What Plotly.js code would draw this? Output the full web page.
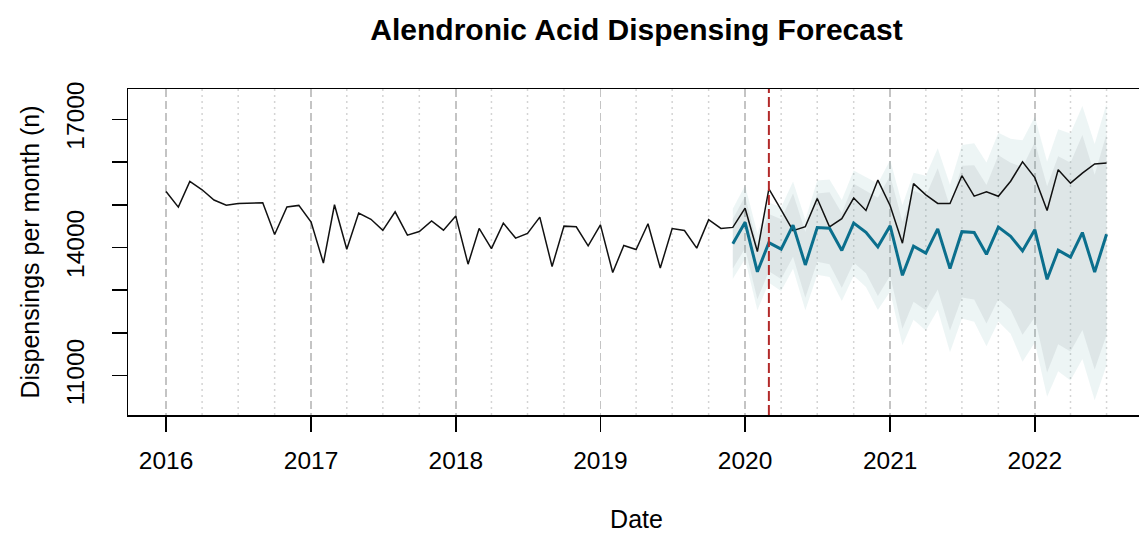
<!DOCTYPE html>
<html>
<head>
<meta charset="utf-8">
<script src="https://cdn.plot.ly/plotly-3.0.1.min.js"></script>
<style>
  html, body { margin: 0; padding: 0; background: #ffffff; overflow: hidden; }
  #chart { width: 1146px; height: 533px; }
</style>
</head>
<body>
<div id="chart"></div>
<script>
// ---------------- data ----------------
const actualStart = [2016, 1];          // first observed month
const actualValues = [
  15310, 14945, 15545, 15350, 15110, 14990, 15030, 15040, 15045, 14305, 14950, 14985,
  14595, 13635, 15000, 13960, 14805, 14660, 14400, 14835, 14290, 14375, 14620, 14405,
  14735, 13610, 14445, 13975, 14570, 14220, 14330, 14710, 13555, 14500, 14485, 14040,
  14528, 13415, 14047, 13953, 14555, 13518, 14445, 14398, 13985, 14650, 14445, 14470,
  14920, 13905, 15370, 14882, 14395, 14488, 15145, 14484, 14676, 15156, 14866, 15577,
  14976, 14100, 15495, 15233, 15030, 15030, 15680, 15200, 15303, 15198, 15550, 16006,
  15635, 14866, 15822, 15505, 15740, 15955, 15975
];

const forecastStart = [2019, 12];       // first forecast month
const forecastMean = [
  14087,
  14590, 13431, 14115, 13961, 14524, 13592, 14465, 14450, 13930, 14571, 14356, 14015,
  14508, 13350, 14030, 13869, 14435, 13506, 14370, 14352, 13840, 14477, 14262, 13919,
  14418, 13255, 13935, 13775, 14350, 13423, 14310
];
const halfWidth95 = [
  820, 860, 900, 940, 980, 1020, 1060, 1100, 1140, 1180, 1230, 1280,
  1480, 1540, 1640, 1720, 1810, 1890, 1960, 2030, 2090, 2150, 2210, 2280,
  2590, 2640, 2750, 2830, 2890, 2960, 3000, 3060
];
const halfWidth80 = [
  580, 610, 640, 670, 700, 740, 770, 800, 840, 870, 920, 960,
  1150, 1170, 1250, 1300, 1340, 1420, 1450, 1540, 1570, 1620, 1680, 1720,
  1960, 2050, 2180, 2200, 2210, 2280, 2280, 2350
];

const eventDate = '2020-03-01';         // red dashed marker
const yearTicks = [2016, 2017, 2018, 2019, 2020, 2021, 2022];
const quarterMonths = [4, 7, 10];
const yTickVals = [11000, 12000, 13000, 14000, 15000, 16000, 17000];
const yTickText = ['11000', '', '', '14000', '', '', '17000'];

const titleText = 'Alendronic Acid Dispensing Forecast';
const xTitle = 'Date';
const yTitle = 'Dispensings per month (n)';

// ---------------- helpers ----------------
function monthSeq(start, n) {
  const out = [];
  let y = start[0], m = start[1];
  for (let i = 0; i < n; i++) {
    out.push(y + '-' + String(m).padStart(2, '0') + '-01');
    m++; if (m > 12) { m = 1; y++; }
  }
  return out;
}
const xActual = monthSeq(actualStart, actualValues.length);
const xFc = monthSeq(forecastStart, forecastMean.length);
const lastDate = xActual[xActual.length - 1];

const up95 = forecastMean.map((v, i) => v + halfWidth95[i]);
const lo95 = forecastMean.map((v, i) => v - halfWidth95[i]);
const up80 = forecastMean.map((v, i) => v + halfWidth80[i]);
const lo80 = forecastMean.map((v, i) => v - halfWidth80[i]);

const FONT = '"Liberation Sans", Arial, Helvetica, sans-serif';

const traces = [
  { x: xFc, y: up95, mode: 'lines', line: { width: 0, color: 'rgba(0,0,0,0)' }, hoverinfo: 'skip', showlegend: false },
  { x: xFc, y: lo95, mode: 'lines', line: { width: 0, color: 'rgba(0,0,0,0)' }, fill: 'tonexty',
    fillcolor: 'rgba(75,155,155,0.10)', hoverinfo: 'skip', showlegend: false },
  { x: xFc, y: up80, mode: 'lines', line: { width: 0, color: 'rgba(0,0,0,0)' }, hoverinfo: 'skip', showlegend: false },
  { x: xFc, y: lo80, mode: 'lines', line: { width: 0, color: 'rgba(0,0,0,0)' }, fill: 'tonexty',
    fillcolor: 'rgba(140,156,164,0.16)', hoverinfo: 'skip', showlegend: false },
  { x: xActual, y: actualValues, mode: 'lines', name: 'Observed',
    line: { color: '#111111', width: 1.5 }, showlegend: false },
  { x: xFc, y: forecastMean, mode: 'lines', name: 'Forecast',
    line: { color: '#0b6f8d', width: 3 }, showlegend: false }
];

// quarter dotted lines
const shapes = [];
yearTicks.forEach(yr => {
  quarterMonths.forEach(m => {
    const d = yr + '-' + String(m).padStart(2, '0') + '-01';
    if (d <= lastDate) {
      shapes.push({ type: 'line', xref: 'x', yref: 'paper', x0: d, x1: d, y0: 0, y1: 1,
        layer: 'below', line: { color: '#d4d4d4', width: 1.5, dash: '2px,4px' } });
    }
  });
});
shapes.push({ type: 'line', xref: 'x', yref: 'paper', x0: eventDate, x1: eventDate, y0: 0, y1: 1,
  layer: 'above', line: { color: '#b22a2a', width: 2, dash: '10px,4px' } });

const layout = {
  width: 1146, height: 533,
  margin: { l: 128, r: 1, t: 89, b: 118 },
  paper_bgcolor: '#ffffff', plot_bgcolor: '#ffffff',
  showlegend: false,
  font: { family: FONT, color: '#000000', size: 25 },
  title: { text: titleText, font: { family: FONT, size: 30, weight: 'bold', color: '#000000' },
    x: 0.5, xref: 'paper', xanchor: 'center', y: 1 - 29 / 533, yref: 'container', yanchor: 'middle' },
  xaxis: {
    type: 'date',
    range: ['2015-09-27', '2022-10-06'],
    tickmode: 'array',
    tickvals: yearTicks.map(y => y + '-01-01'),
    ticktext: yearTicks.map(String),
    ticks: 'outside', ticklen: 15, tickwidth: 1.5, tickcolor: '#000000',
    tickfont: { family: FONT, size: 24.5, color: '#000000' },
    ticklabelstandoff: 8,
    showline: true, mirror: true, linecolor: '#000000', linewidth: 1.5,
    showgrid: true, gridcolor: '#c4c4c4', gridwidth: 1.5, griddash: '8px,4px',
    zeroline: false,
    title: { text: xTitle, font: { family: FONT, size: 25, color: '#000000' }, standoff: 39 }
  },
  yaxis: {
    range: [10080, 17709],
    tickmode: 'array',
    tickvals: yTickVals, ticktext: yTickText,
    tickangle: -90,
    ticks: 'outside', ticklen: 15, tickwidth: 1.5, tickcolor: '#000000',
    tickfont: { family: FONT, size: 24.5, color: '#000000' },
    ticklabelstandoff: 18,
    showline: true, mirror: true, linecolor: '#000000', linewidth: 1.5,
    showgrid: false, zeroline: false,
    title: { text: yTitle, font: { family: FONT, size: 25, color: '#000000' }, standoff: 15 }
  },
  shapes: shapes
};

Plotly.newPlot('chart', traces, layout, { displayModeBar: false, staticPlot: true });
</script>
</body>
</html>
